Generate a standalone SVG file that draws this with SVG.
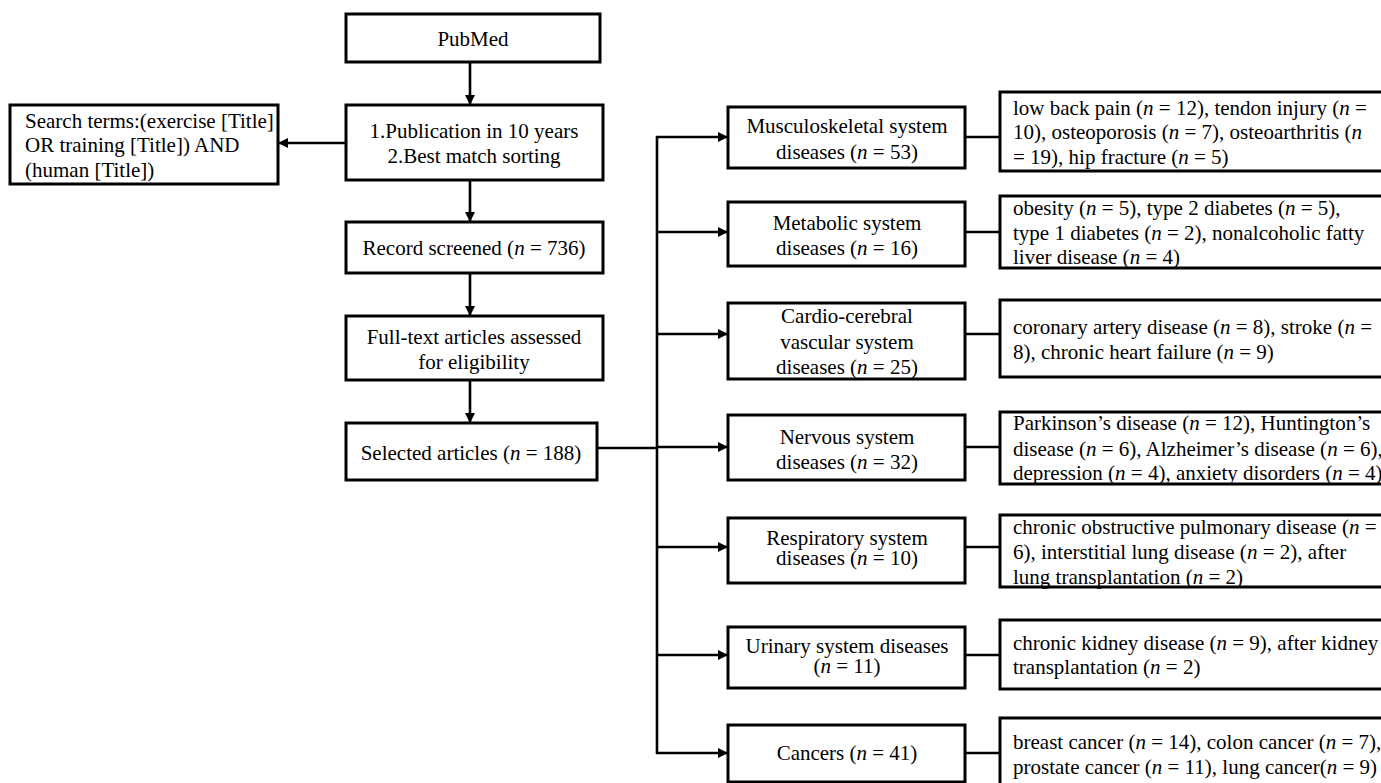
<svg xmlns="http://www.w3.org/2000/svg" width="1381" height="783" viewBox="0 0 1381 783">
<style>
text{font-family:"Liberation Serif","DejaVu Serif",serif;font-size:21px;fill:#000}
.c{text-anchor:middle}
.i{font-style:italic}
.b{fill:#fff;stroke:#000;stroke-width:3}
.ln{fill:none;stroke:#000;stroke-width:2.6}
</style>
<defs>
<marker id="ah" markerWidth="10" markerHeight="10" refX="9" refY="5" orient="auto" markerUnits="userSpaceOnUse">
<path d="M0,0 L10,5 L0,10 z" fill="#000"/>
</marker>
</defs>
<rect width="1381" height="783" fill="#fff"/>
<g id="connectors">
<line class="ln" x1="470" y1="62" x2="470" y2="104" marker-end="url(#ah)"/>
<line class="ln" x1="470" y1="180" x2="470" y2="221" marker-end="url(#ah)"/>
<line class="ln" x1="470" y1="273" x2="470" y2="315" marker-end="url(#ah)"/>
<line class="ln" x1="470" y1="380" x2="470" y2="422" marker-end="url(#ah)"/>
<line class="ln" x1="346" y1="143" x2="279" y2="143" marker-end="url(#ah)"/>
<line class="ln" x1="597" y1="448" x2="657" y2="448"/>
<line class="ln" x1="657" y1="136" x2="657" y2="754"/>
<line class="ln" x1="656" y1="137" x2="727" y2="137" marker-end="url(#ah)"/>
<line class="ln" x1="656" y1="232" x2="727" y2="232" marker-end="url(#ah)"/>
<line class="ln" x1="656" y1="334" x2="727" y2="334" marker-end="url(#ah)"/>
<line class="ln" x1="656" y1="447" x2="727" y2="447" marker-end="url(#ah)"/>
<line class="ln" x1="656" y1="547" x2="727" y2="547" marker-end="url(#ah)"/>
<line class="ln" x1="656" y1="655" x2="727" y2="655" marker-end="url(#ah)"/>
<line class="ln" x1="656" y1="753" x2="727" y2="753" marker-end="url(#ah)"/>
<line class="ln" x1="965" y1="137" x2="1000" y2="137"/>
<line class="ln" x1="965" y1="232" x2="1000" y2="232"/>
<line class="ln" x1="965" y1="334" x2="1000" y2="334"/>
<line class="ln" x1="965" y1="447" x2="1000" y2="447"/>
<line class="ln" x1="965" y1="547" x2="1000" y2="547"/>
<line class="ln" x1="965" y1="655" x2="1000" y2="655"/>
<line class="ln" x1="965" y1="753" x2="1000" y2="753"/>
</g>
<g id="pubmed">
<rect class="b" x="346" y="14" width="254" height="48"/>
<text class="c" x="473" y="46">PubMed</text>
</g>
<g id="publication">
<rect class="b" x="346" y="105" width="257" height="75"/>
<text class="c" x="474" y="138">1.Publication in 10 years</text>
<text class="c" x="474" y="163">2.Best match sorting</text>
</g>
<g id="search">
<rect class="b" x="10" y="105" width="268" height="79"/>
<text x="25" y="128">Search terms:(exercise [Title]</text>
<text x="25" y="152">OR training [Title]) AND</text>
<text x="25" y="177">(human [Title])</text>
</g>
<g id="record">
<rect class="b" x="346" y="222" width="257" height="51"/>
<text class="c" x="474" y="255">Record screened (<tspan class="i">n</tspan> = 736)</text>
</g>
<g id="fulltext">
<rect class="b" x="346" y="316" width="257" height="64"/>
<text class="c" x="474" y="344">Full-text articles assessed</text>
<text class="c" x="474" y="369">for eligibility</text>
</g>
<g id="selected">
<rect class="b" x="346" y="423" width="251" height="57"/>
<text class="c" x="471" y="460">Selected articles (<tspan class="i">n</tspan> = 188)</text>
</g>
<g id="musculo">
<rect class="b" x="728" y="107" width="237" height="61"/>
<text class="c" x="847" y="133">Musculoskeletal system</text>
<text class="c" x="847" y="159">diseases (<tspan class="i">n</tspan> = 53)</text>
</g>
<g id="metabolic">
<rect class="b" x="728" y="202" width="237" height="64"/>
<text class="c" x="847" y="230">Metabolic system</text>
<text class="c" x="847" y="255">diseases (<tspan class="i">n</tspan> = 16)</text>
</g>
<g id="cardio">
<rect class="b" x="728" y="303" width="237" height="76"/>
<text class="c" x="847" y="323">Cardio-cerebral</text>
<text class="c" x="847" y="349">vascular system</text>
<text class="c" x="847" y="374">diseases (<tspan class="i">n</tspan> = 25)</text>
</g>
<g id="nervous">
<rect class="b" x="728" y="415" width="237" height="65"/>
<text class="c" x="847" y="444">Nervous system</text>
<text class="c" x="847" y="469">diseases (<tspan class="i">n</tspan> = 32)</text>
</g>
<g id="respiratory">
<rect class="b" x="728" y="518" width="237" height="65"/>
<text class="c" x="847" y="545">Respiratory system</text>
<text class="c" x="847" y="565">diseases (<tspan class="i">n</tspan> = 10)</text>
</g>
<g id="urinary">
<rect class="b" x="728" y="627" width="237" height="61"/>
<text class="c" x="847" y="653">Urinary system diseases</text>
<text class="c" x="847" y="673">(<tspan class="i">n</tspan> = 11)</text>
</g>
<g id="cancers">
<rect class="b" x="728" y="725" width="237" height="57"/>
<text class="c" x="847" y="760">Cancers (<tspan class="i">n</tspan> = 41)</text>
</g>
<g id="musculo-detail" xml:space="preserve">
<rect class="b" x="1000" y="92" width="390" height="79"/>
<text x="1013" y="115">low back pain (<tspan class="i">n</tspan> = 12),  tendon injury (<tspan class="i">n</tspan> =</text>
<text x="1013" y="139">10),  osteoporosis (<tspan class="i">n</tspan> = 7), osteoarthritis (<tspan class="i">n</tspan></text>
<text x="1013" y="164">= 19),  hip fracture (<tspan class="i">n</tspan> = 5)</text>
</g>
<g id="metabolic-detail" xml:space="preserve">
<rect class="b" x="1000" y="196" width="390" height="72"/>
<text x="1013" y="215">obesity (<tspan class="i">n</tspan> = 5),  type 2 diabetes (<tspan class="i">n</tspan> = 5),</text>
<text x="1013" y="240">type 1 diabetes (<tspan class="i">n</tspan> = 2),  nonalcoholic fatty</text>
<text x="1013" y="264">liver disease (<tspan class="i">n</tspan> = 4)</text>
</g>
<g id="cardio-detail" xml:space="preserve">
<rect class="b" x="1000" y="300" width="390" height="77"/>
<text x="1013" y="334">coronary artery disease (<tspan class="i">n</tspan> = 8),  stroke (<tspan class="i">n</tspan> =</text>
<text x="1013" y="359">8), chronic heart failure (<tspan class="i">n</tspan> = 9)</text>
</g>
<g id="nervous-detail" xml:space="preserve">
<rect class="b" x="1000" y="412" width="390" height="72"/>
<text x="1013" y="430">Parkinson’s disease (<tspan class="i">n</tspan> = 12), Huntington’s</text>
<text x="1013" y="456">disease (<tspan class="i">n</tspan> = 6), Alzheimer’s disease (<tspan class="i">n</tspan> = 6),</text>
<text x="1013" y="480">depression (<tspan class="i">n</tspan> = 4), anxiety disorders (<tspan class="i">n</tspan> = 4)</text>
</g>
<g id="respiratory-detail" xml:space="preserve">
<rect class="b" x="1000" y="515" width="390" height="72"/>
<text x="1013" y="534">chronic obstructive pulmonary disease (<tspan class="i">n</tspan> =</text>
<text x="1013" y="559">6),  interstitial lung disease (<tspan class="i">n</tspan> = 2), after</text>
<text x="1013" y="584">lung transplantation (<tspan class="i">n</tspan> = 2)</text>
</g>
<g id="urinary-detail" xml:space="preserve">
<rect class="b" x="1000" y="620" width="390" height="69"/>
<text x="1013" y="650">chronic kidney disease (<tspan class="i">n</tspan> = 9), after kidney</text>
<text x="1013" y="674">transplantation (<tspan class="i">n</tspan> = 2)</text>
</g>
<g id="cancers-detail" xml:space="preserve">
<rect class="b" x="1000" y="718" width="390" height="70"/>
<text x="1013" y="749">breast cancer (<tspan class="i">n</tspan> = 14), colon cancer (<tspan class="i">n</tspan> = 7),</text>
<text x="1013" y="774">prostate cancer (<tspan class="i">n</tspan> = 11), lung cancer(<tspan class="i">n</tspan> = 9)</text>
</g>
</svg>
